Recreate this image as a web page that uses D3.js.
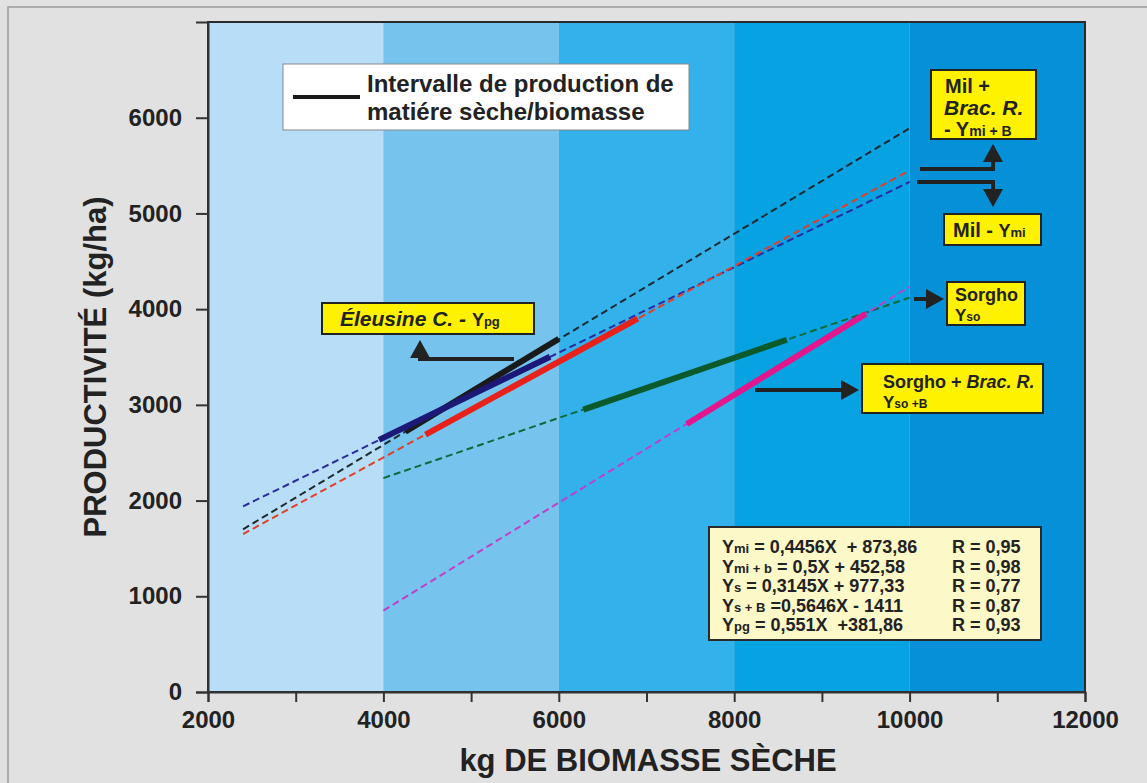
<!DOCTYPE html>
<html lang="fr">
<head>
<meta charset="UTF-8">
<title>Productivité / biomasse</title>
<script src="https://d3js.org/d3.v7.min.js"></script>
<style>
  body { margin: 0; background: #e1e1e1; }
  svg { display: block; font-family: "Liberation Sans", Arial, sans-serif; }
  .axis text { font-size: 24px; font-weight: bold; fill: #222; }
  .axis path, .axis line { stroke: #333; stroke-width: 2px; }
</style>
</head>
<body>
<svg width="1147" height="783"></svg>
<script>
// background bands (x ranges)
var bandStart = [2000, 4000, 6000, 8000, 10000];
var bandEnd = [4000, 6000, 8000, 10000, 12000];
var bandColor = ['#b8ddf6', '#76c4ee', '#32b1ea', '#07a2e2', '#0590d7'];

// regression lines, endpoints [x, y]
var seriesNames = ['Ymi', 'Ymi+b', 'Ys', 'Ys+B', 'Ypg'];
var dashStart = [[2400, 1940], [2400, 1650], [4000, 2235], [4000, 850], [2400, 1700]];
var dashEnd = [[10000, 5330], [10000, 5450], [10000, 4120], [10000, 4235], [10000, 5890]];
var solidStart = [[3950, 2634], [4480, 2690], [6280, 2950], [7460, 2800], [4250, 2720]];
var solidEnd = [[5900, 3503], [6900, 3900], [8600, 3680], [9500, 3950], [6000, 3690]];
var dashColor = ['#2b2aa0', '#e0402a', '#0e6a3a', '#c040c8', '#1e2a30'];
var solidColor = ['#1c1878', '#e8221a', '#0a5a2c', '#e4168c', '#1a1a1a'];
var solidOrder = [4, 0, 1, 2, 3];

var xTicks = [2000, 4000, 6000, 8000, 10000, 12000];
var xMinor = [3000, 5000, 7000, 9000, 11000];
var yTicks = [0, 1000, 2000, 3000, 4000, 5000, 6000];

var eqLeft = ['= 0,4456X  + 873,86', '= 0,5X + 452,58', '= 0,3145X + 977,33', '=0,5646X - 1411', '= 0,551X  +381,86'];
var eqSub = ['mi', 'mi + b', 's', 's + B', 'pg'];
var eqR = ['R = 0,95', 'R = 0,98', 'R = 0,77', 'R = 0,87', 'R = 0,93'];

var svg = d3.select('svg');
var x = d3.scaleLinear().domain([2000, 12000]).range([208, 1085]);
var y = d3.scaleLinear().domain([0, 7000]).range([692, 22]);

// outer frame
svg.append('rect').attr('x', 8).attr('y', 7).attr('width', 1160).attr('height', 800)
  .attr('fill', '#e1e1e1').attr('stroke', '#9a9a9a').attr('stroke-width', 1.5);

svg.selectAll('rect.band').data(bandStart).enter().append('rect')
  .attr('class', 'band')
  .attr('x', (d) => x(d))
  .attr('y', y(7000))
  .attr('width', (d, i) => x(bandEnd[i]) - x(d))
  .attr('height', y(0) - y(7000))
  .attr('fill', (d, i) => bandColor[i]);

svg.append('rect').attr('x', x(2000)).attr('y', y(7000))
  .attr('width', x(12000) - x(2000)).attr('height', y(0) - y(7000))
  .attr('fill', 'none').attr('stroke', '#2a2a2a').attr('stroke-width', 2);

// axes
svg.append('g').attr('class', 'axis').attr('transform', 'translate(0,' + y(0) + ')')
  .call(d3.axisBottom(x).tickValues(xTicks).tickFormat(d3.format('d')).tickSize(10).tickPadding(9));
svg.append('g').attr('class', 'axis').attr('transform', 'translate(0,' + y(0) + ')')
  .call(d3.axisBottom(x).tickValues(xMinor).tickFormat('').tickSize(10))
  .select('.domain').remove();
svg.append('g').attr('class', 'axis').attr('transform', 'translate(' + x(2000) + ',0)')
  .call(d3.axisLeft(y).tickValues(yTicks).tickFormat(d3.format('d')).tickSize(12).tickPadding(14));

svg.append('text').attr('x', 648).attr('y', 771).attr('text-anchor', 'middle')
  .style('font-size', '31px').style('font-weight', 'bold').style('fill', '#222')
  .text('kg DE BIOMASSE SÈCHE');
svg.append('text').attr('transform', 'translate(106,367) rotate(-90)').attr('text-anchor', 'middle')
  .style('font-size', '31px').style('font-weight', 'bold').style('fill', '#222')
  .text('PRODUCTIVITÉ (kg/ha)');

// dashed extensions
svg.selectAll('line.dash').data(seriesNames).enter().append('line')
  .attr('class', 'dash')
  .attr('x1', (d, i) => x(dashStart[i][0])).attr('y1', (d, i) => y(dashStart[i][1]))
  .attr('x2', (d, i) => x(dashEnd[i][0])).attr('y2', (d, i) => y(dashEnd[i][1]))
  .style('stroke', (d, i) => dashColor[i])
  .style('stroke-width', 2)
  .style('stroke-dasharray', '7,4');

// production intervals
svg.selectAll('line.solid').data(solidOrder).enter().append('line')
  .attr('class', 'solid')
  .attr('x1', (i) => x(solidStart[i][0])).attr('y1', (i) => y(solidStart[i][1]))
  .attr('x2', (i) => x(solidEnd[i][0])).attr('y2', (i) => y(solidEnd[i][1]))
  .style('stroke', (i) => solidColor[i])
  .style('stroke-width', 6);

// legend
svg.append('rect').attr('x', 283).attr('y', 64).attr('width', 406).attr('height', 66)
  .attr('fill', '#fff').attr('stroke', '#888').attr('stroke-width', 1);
svg.append('line').attr('x1', 293).attr('x2', 360).attr('y1', 97).attr('y2', 97)
  .style('stroke', '#1a1a1a').style('stroke-width', 4);
svg.append('text').attr('x', 367).attr('y', 92)
  .style('font-size', '24px').style('font-weight', 'bold').style('fill', '#222')
  .text('Intervalle de production de');
svg.append('text').attr('x', 367).attr('y', 120)
  .style('font-size', '24px').style('font-weight', 'bold').style('fill', '#222')
  .text('matiére sèche/biomasse');

// yellow labels
function box(x0, y0, w, h) {
  svg.append('rect').attr('x', x0).attr('y', y0).attr('width', w).attr('height', h)
    .attr('fill', '#fff200').attr('stroke', '#222').attr('stroke-width', 2);
}
function label(x0, y0, size, italic) {
  return svg.append('text').attr('x', x0).attr('y', y0)
    .style('font-size', size + 'px').style('font-weight', 'bold').style('fill', '#222')
    .style('font-style', italic ? 'italic' : 'normal').style('white-space', 'pre');
}
function sub(t, main, small, mainSize, smallSize) {
  t.append('tspan').style('font-size', mainSize + 'px').style('font-style', 'normal').text(main);
  t.append('tspan').style('font-size', smallSize + 'px').style('font-style', 'normal').text(small);
}

box(931, 70, 105, 69);
label(945, 93, 20).text('Mil +');
label(944, 115, 21, true).text('Brac. R.');
var t = label(944, 136, 20);
sub(t, '- Y', 'mi + B', 20, 14);

box(944, 214, 97, 31);
t = label(953, 237, 20).text('Mil - ');
sub(t, 'Y', 'mi', 18, 13);

box(322, 303, 212, 31);
t = label(340, 326, 21, true).text('Éleusine C. - ');
sub(t, 'Y', 'pg', 18, 13);

box(947, 282, 78, 43);
label(955, 301, 18).text('Sorgho');
t = label(955, 321, 16);
sub(t, 'Y', 'so', 17, 12);

box(862, 364, 181, 49);
t = label(883, 388, 18).text('Sorgho + ');
t.append('tspan').style('font-style', 'italic').text('Brac. R.');
t = label(883, 408, 16);
sub(t, 'Y', 'so +B', 17, 12);

// arrows
function arrow(pts, tip, dir) {
  svg.append('path').attr('d', d3.line()(pts)).attr('fill', 'none')
    .style('stroke', '#222').style('stroke-width', 4);
  var s = 10, l = 18, p;
  if (dir === 'up') p = [[tip[0], tip[1]], [tip[0] - s, tip[1] + l], [tip[0] + s, tip[1] + l]];
  if (dir === 'down') p = [[tip[0], tip[1]], [tip[0] - s, tip[1] - l], [tip[0] + s, tip[1] - l]];
  if (dir === 'right') p = [[tip[0], tip[1]], [tip[0] - l, tip[1] - s], [tip[0] - l, tip[1] + s]];
  svg.append('path').attr('d', d3.line()(p) + 'Z').attr('fill', '#222');
}
arrow([[920, 169], [993, 169], [993, 155]], [993, 144], 'up');
arrow([[917, 182], [993, 182], [993, 196]], [993, 207], 'down');
arrow([[514, 359], [420, 359], [420, 350]], [420, 340], 'up');
arrow([[914, 299], [930, 299]], [944, 299], 'right');
arrow([[755, 390], [845, 390]], [859, 390], 'right');

// equations
svg.append('rect').attr('x', 709).attr('y', 527).attr('width', 332).attr('height', 113)
  .attr('fill', '#fcf8c8').attr('stroke', '#2a2a2a').attr('stroke-width', 2);
eqLeft.forEach(function (e, i) {
  var tt = label(722, 553 + i * 19.6, 18);
  tt.append('tspan').text('Y');
  tt.append('tspan').style('font-size', '13px').text(eqSub[i]);
  tt.append('tspan').text(' ' + e);
  label(952, 553 + i * 19.6, 18).text(eqR[i]);
});
</script>
</body>
</html>
